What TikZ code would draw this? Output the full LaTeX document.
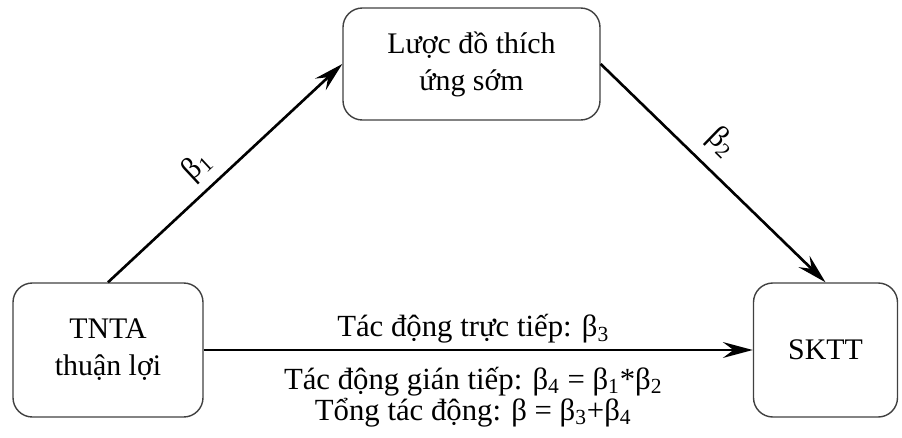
\documentclass[tikz,border=0pt]{standalone}
\usepackage{fontspec}
\setmainfont{Liberation Serif}
\usetikzlibrary{arrows.meta}

\tikzset{
	khoi/.style={draw=black!75,line width=0.8pt,rounded corners=11pt,align=center,font=\fontsize{17}{21}\selectfont},
	muiten/.style={line width=1.5pt,-{Stealth[length=17pt,width=9pt,inset=6pt]}},
	nhan/.style={font=\fontsize{17.5}{17.5}\selectfont,align=center}
}

\begin{document}
\begin{tikzpicture}
	\useasboundingbox (0,0) rectangle (18.04,-8.74);
	% cac khoi
	\node[khoi,minimum width=5.14cm,minimum height=2.24cm] (luocdo) at (9.43,-1.28) {Lược đồ thích\\ứng sớm};
	\node[khoi,minimum width=3.8cm,minimum height=2.68cm] (tnta) at (2.16,-7.0) {TNTA\\thuận lợi};
	\node[khoi,minimum width=2.88cm,minimum height=2.68cm] (sktt) at (16.51,-7.0) {SKTT};
	% cac mui ten
	\draw[muiten] (tnta.north) -- node[nhan,above,sloped,pos=0.45,inner sep=5pt] {β\textsubscript{1}} (luocdo.west);
	\draw[muiten] (luocdo.east) -- node[nhan,above,sloped,pos=0.45,inner sep=7pt] {β\textsubscript{2}} (sktt.north);
	\draw[muiten] (tnta.east) -- node[nhan,above,inner sep=3pt,xshift=-0.1cm] {Tác động trực tiếp: β\textsubscript{3}}
		node[nhan,below,inner sep=9pt,xshift=-0.1cm] {Tác động gián tiếp: β\textsubscript{4} = β\textsubscript{1}*β\textsubscript{2}\\Tổng tác động: β = β\textsubscript{3}+β\textsubscript{4}} (sktt.west);
\end{tikzpicture}
\end{document}
